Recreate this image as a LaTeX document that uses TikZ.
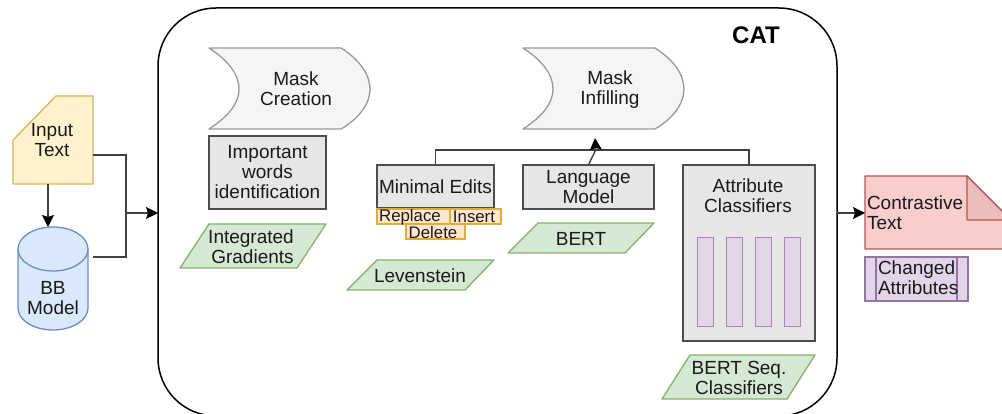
\documentclass[tikz,border=0pt]{standalone}
\usepackage{fontspec}
\setmainfont{Liberation Sans}
\usetikzlibrary{arrows.meta}
\definecolor{yelF}{HTML}{FFF2CC}\definecolor{yelD}{HTML}{D6B656}
\definecolor{bluF}{HTML}{DAE8FC}\definecolor{bluD}{HTML}{6C8EBF}
\definecolor{grnF}{HTML}{D5E8D4}\definecolor{grnD}{HTML}{82B366}
\definecolor{gryF}{HTML}{E6E6E6}\definecolor{gryD}{HTML}{4D4D4D}
\definecolor{mskF}{HTML}{F5F5F5}\definecolor{mskD}{HTML}{999999}
\definecolor{purF}{HTML}{E1D5E7}\definecolor{purD}{HTML}{9673A6}
\definecolor{redF}{HTML}{F8CECC}\definecolor{redD}{HTML}{B85450}
\definecolor{redG}{HTML}{EBBDBB}
\definecolor{orgF}{HTML}{FFE6CC}\definecolor{orgD}{HTML}{E3AC33}
\definecolor{ink}{HTML}{1A1A1A}
\tikzset{
  lbl/.style={align=center,inner sep=0pt,outer sep=0pt,text=ink,font=\fontsize{19}{20}\selectfont},
  smalllbl/.style={inner sep=0pt,outer sep=0pt,text=ink,font=\fontsize{16.8}{18}\selectfont},
  anybox/.style={rectangle,inner sep=0pt,outer sep=0pt,line width=1.3pt},
  graybox/.style={anybox,draw=gryD,fill=gryF,align=center,text=ink,font=\fontsize{19}{20}\selectfont},
  barbox/.style={anybox,draw=purD!85,line width=1pt,fill=purF,minimum width=16pt,minimum height=88pt},
  editbox/.style={anybox,draw=orgD,fill=orgF,minimum height=15pt},
  para/.style={draw=grnD,fill=grnF,line width=1.3pt,line join=round},
  maskshape/.style={draw=mskD,fill=mskF,line width=1.3pt,line join=round},
  conn/.style={draw=black!75,line width=1.4pt},
  arrowconn/.style={conn,-{Stealth[length=12pt,width=12pt,inset=2pt,color=black]}},
}
\begin{document}
\begin{tikzpicture}[x=1pt,y=-1pt]
\clip (0,0) rectangle (1002,414);
% CAT frame
\node[anybox,draw=black,line width=1.5pt,rounded corners=58pt,minimum width=679pt,minimum height=408pt] (cat) at (497.5,212) {};
\node[inner sep=0pt,text=black,font=\fontsize{24}{26}\selectfont\bfseries] (cattitle) at (756,35) {CAT};
% Input text
\draw[fill=yelF,draw=yelD,line width=1.3pt,line join=round] (56,96) -- (93,96) -- (93,184) -- (13,184) -- (13,140) -- cycle;
\node[lbl,minimum width=80pt,minimum height=88pt] (input) at (52,140) {Input\\Text};
% BB model
\draw[fill=bluF,draw=bluD,line width=1.3pt] (18,249) -- (18,308) arc[start angle=180,end angle=360,x radius=35pt,y radius=22pt] -- (88,249);
\draw[fill=bluF,draw=bluD,line width=1.3pt] (53,249) ellipse [x radius=35pt,y radius=22pt];
\node[anybox,minimum width=70pt,minimum height=103pt] (bb) at (53,278.5) {};
\node[lbl] (bbtext) at (53,298) {BB\\Model};
% Mask creation
\draw[maskshape] (209,48) -- (341,48) .. controls (360,60) and (370,75) .. (370,89) .. controls (370,103) and (360,118) .. (341,129) -- (209,129) .. controls (229,116) and (239,103) .. (239,89) .. controls (239,75) and (229,61) .. (209,48) -- cycle;
\node[lbl] (maskcreate) at (296,89) {Mask\\Creation};
% Mask infilling
\draw[maskshape] (523,48) -- (655,48) .. controls (674,60) and (684,75) .. (684,89) .. controls (684,103) and (674,118) .. (655,129) -- (523,129) .. controls (543,116) and (553,103) .. (553,89) .. controls (553,75) and (543,61) .. (523,48) -- cycle;
\node[lbl] (maskfill) at (610,90) {Mask\\Infilling};
% Important words
\node[graybox,minimum width=117pt,minimum height=73pt] (important) at (267.5,172.5) {Important\\words\\identification};
\draw[para] (209,224) -- (326,224) -- (297,268) -- (180,268) -- cycle;
\node[lbl] (intgrad) at (251,247) {Integrated\\[0pt]\hspace*{3pt}Gradients};
% Minimal edits
\node[graybox,minimum width=117pt,minimum height=43pt] (minimal) at (435.5,186.5) {Minimal Edits};
\node[editbox,minimum width=73pt] (replace) at (413.5,216.5) {};
\node[editbox,minimum width=51pt] (insert) at (475.5,216.5) {};
\node[editbox,minimum width=59pt] (delete) at (435.5,231.5) {};
\node[smalllbl] (replacet) at (410,217) {Replace};
\node[smalllbl] (insertt) at (474,217) {Insert};
\node[smalllbl] (deletet) at (433,232) {Delete};
\draw[para] (377,260) -- (494,260) -- (465,290) -- (347,290) -- cycle;
\node[lbl] (leven) at (420,276) {Levenstein};
% Language model
\node[graybox,minimum width=131pt,minimum height=44pt] (lang) at (588.5,187) {Language\\Model};
\draw[para] (538,223) -- (654,223) -- (625,253) -- (508,253) -- cycle;
\node[lbl] (bert) at (581,239) {BERT};
% Attribute classifiers
\node[anybox,draw=gryD,fill=gryF,minimum width=132pt,minimum height=176pt] (attr) at (749,253) {};
\node[lbl] (attrtext) at (748,196) {Attribute\\Classifiers};
\node[barbox] (b1) at (705,282) {};
\node[barbox] (b2) at (734,282) {};
\node[barbox] (b3) at (763,282) {};
\node[barbox] (b4) at (792.5,282) {};
\draw[para] (690,355) -- (815,355) -- (787,399) -- (662,399) -- cycle;
\node[lbl] (bertseq) at (739,378) {BERT Seq.\\Classifiers};
% Contrastive text
\draw[fill=redF,draw=redD,line width=1.3pt,line join=round] (865,176) -- (967,176) -- (1011,220) -- (1011,249) -- (865,249) -- cycle;
\draw[fill=redG,draw=redD,line width=1.3pt,line join=round] (967,176) -- (967,220) -- (1011,220) -- cycle;
\node[lbl,align=left,anchor=west] (contrast) at (867,213) {Contrastive\\Text};
\node[anybox,minimum height=73pt,minimum width=146pt] (contrastbox) at (938,212.5) {};
% Changed attributes
\node[anybox,draw=purD,fill=purF,minimum width=103pt,minimum height=44pt] (changed) at (916.5,279) {};
\draw[draw=purD,line width=1.3pt] (876,257) -- (876,301) (957,257) -- (957,301);
\node[lbl,align=left,anchor=west] (changedt) at (878,278) {Changed\\Attributes};
% Connectors
\coordinate (join) at (126,213);
\coordinate (tip) at (595,138);
\draw[arrowconn] ([xshift=-4pt]input.south) -- ([xshift=-5pt]bb.north);
\draw[conn] ([xshift=1pt,yshift=-15pt]input.east) -| (join) |- ([xshift=5pt,yshift=21.5pt]bb.east);
\draw[arrowconn] (join) -- ([yshift=-1pt]cat.west);
\draw[conn] (minimal.north) -- ++(0,-15) -| (attr.north);
\draw[arrowconn] (lang.north) .. controls (591,158) and (596,152) .. (tip);
\draw[arrowconn] ([yshift=-1pt]cat.east) -- ([yshift=-.5pt]contrastbox.west);
\end{tikzpicture}
\end{document}
